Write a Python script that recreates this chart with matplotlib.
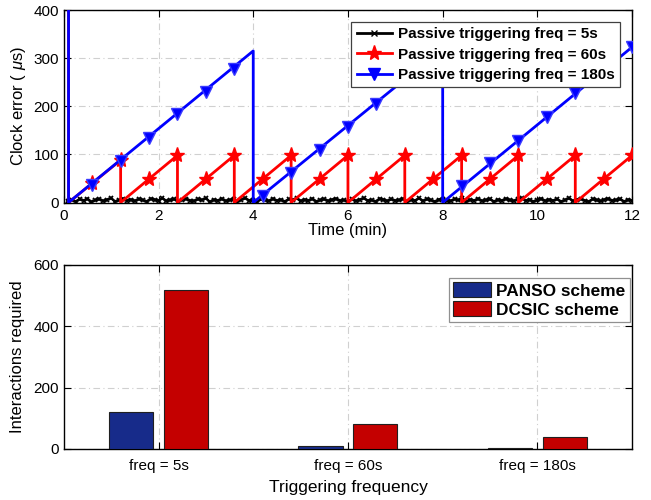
import numpy as np
import matplotlib
matplotlib.use("Agg")
import matplotlib.pyplot as plt
from matplotlib.lines import Line2D

plt.rcParams['font.family'] = ['Liberation Sans', 'DejaVu Sans']
plt.rcParams['mathtext.fontset'] = 'custom'
plt.rcParams['mathtext.rm'] = 'Liberation Sans'
plt.rcParams['mathtext.it'] = 'Liberation Sans:italic'

# ---- top panel data (time in min, error in us) ----
# freq = 5s, sampled every 5 s
black_vals = [3, 6, 2, 7, 4, 8, 1, 5, 7, 3, 6, 9, 2, 5, 8, 4, 6, 3, 7, 5, 2, 8, 6, 4,
              9, 3, 5, 7, 2, 6, 8, 4, 3, 7, 5, 9, 1, 6, 4, 8, 3, 5, 7, 2, 6, 9, 4, 5,
              2, 7, 5, 3, 8, 4, 6, 2, 7, 5, 9, 3, 6, 4, 8, 2, 5, 7, 3, 6, 8, 4, 5, 2,
              7, 3, 6, 9, 4, 5, 2, 8, 6, 3, 7, 4, 5, 8, 2, 6, 4, 9, 3, 7, 5, 2, 6, 8,
              4, 3, 7, 5, 9, 2, 6, 4, 8, 3, 5, 7, 2, 6, 4, 8, 5, 3, 7, 9, 4, 6, 2, 5,
              8, 3, 6, 4, 7, 2, 5, 9, 3, 6, 8, 4, 2, 7, 5, 3, 6, 8, 4, 5, 7, 2, 6, 4]
black_t = np.arange(1, len(black_vals) + 1) / 12.0

red_t = [0.1, 0.1, 1.2, 1.2, 2.4, 2.4, 3.6, 3.6, 4.8, 4.8, 6.0, 6.0,
         7.2, 7.2, 8.4, 8.4, 9.6, 9.6, 10.8, 10.8, 12.0]
red_v = [450, 0, 88, 0, 98, 0, 98, 0, 98, 0, 98, 0,
         98, 0, 98, 0, 98, 0, 98, 0, 98]
red_mk_t = [0.6, 1.2, 1.8, 2.4, 3.0, 3.6, 4.2, 4.8, 5.4, 6.0, 6.6, 7.2,
            7.8, 8.4, 9.0, 9.6, 10.2, 10.8, 11.4, 12.0]
red_mk_v = [40, 88, 49, 98, 49, 98, 49, 98, 49, 98, 49, 98,
            49, 98, 49, 98, 49, 98, 49, 98]

blue_t = [0.1, 0.1, 4.0, 4.0, 8.0, 8.0, 12.0]
blue_v = [450, 0, 315, 0, 320, 0, 323]
blue_mk_t = [0.6, 1.2, 1.8, 2.4, 3.0, 3.6, 4.2, 4.8, 5.4, 6.0, 6.6, 7.2,
             7.8, 8.4, 9.0, 9.6, 10.2, 10.8, 11.4, 12.0]
blue_mk_v = [37, 87, 135, 183, 230, 278, 14, 62, 110, 157, 205, 253,
             300, 34, 82, 128, 177, 228, 275, 323]

# ---- bottom panel data ----
categories = ['freq = 5s', 'freq = 60s', 'freq = 180s']
panso = [120, 10, 4]
dcsic = [520, 80, 40]

fig = plt.figure(figsize=(6.51, 5.0), dpi=100)
ax1 = fig.add_axes([0.098, 0.595, 0.873, 0.385])
ax2 = fig.add_axes([0.098, 0.102, 0.873, 0.368])

grid_kw = dict(color='#d0d0d0', linestyle=(0, (6, 3, 1, 3)), linewidth=0.8)


def style(ax):
    ax.grid(True, **grid_kw)
    ax.set_axisbelow(True)
    ax.tick_params(direction='in', top=True, right=True, length=5,
                   labelsize=11, width=0.8)
    for s in ax.spines.values():
        s.set_linewidth(1.0)


# top
ax1.plot(black_t, black_vals, color='black', lw=1.8, marker='x', ms=3.5, mew=1.3, zorder=2)
ax1.plot(red_t, red_v, color='red', lw=2, zorder=3)
ax1.plot(red_mk_t, red_mk_v, ls='none', color='red', marker='*', ms=11, zorder=3)
ax1.plot(blue_t, blue_v, color='blue', lw=2, zorder=4)
ax1.plot(blue_mk_t, blue_mk_v, ls='none', color='blue', marker='v', ms=9,
         markeredgecolor='#3a3aff', zorder=4)
ax1.set_xlim(0, 12)
ax1.set_ylim(0, 400)
ax1.set_xticks(range(0, 13, 2))
ax1.set_yticks(range(0, 401, 100))
ax1.set_xlabel('Time (min)', fontsize=12, labelpad=0)
ax1.set_ylabel(r'Clock error ( $\mu$s)', fontsize=12, labelpad=4)
style(ax1)
ax1.tick_params(axis='x', pad=5)
handles = [Line2D([], [], color='black', lw=2, marker='x', ms=4),
           Line2D([], [], color='red', lw=2, marker='*', ms=11),
           Line2D([], [], color='blue', lw=2, marker='v', ms=9)]
leg1 = ax1.legend(handles, ['Passive triggering freq = 5s',
                            'Passive triggering freq = 60s',
                            'Passive triggering freq = 180s'],
                  loc='upper right', bbox_to_anchor=(0.979, 0.938),
                  borderaxespad=0,
                  prop={'weight': 'bold', 'size': 11}, fancybox=False,
                  edgecolor='#404040', framealpha=1, handlelength=2.3,
                  labelspacing=0.42, borderpad=0.35, handletextpad=0.4)
leg1.get_frame().set_linewidth(0.9)

# bottom
x = np.arange(1, len(categories) + 1)
w = 0.233
ax2.bar(x - 0.145, panso, w, color='#172b8a', edgecolor='#202020', lw=0.8,
        label='PANSO scheme', zorder=3)
ax2.bar(x + 0.145, dcsic, w, color='#c40000', edgecolor='#202020', lw=0.8,
        label='DCSIC scheme', zorder=3)
ax2.set_xlim(0.5, 3.5)
ax2.set_ylim(0, 600)
ax2.set_xticks(x)
ax2.set_xticklabels(categories)
ax2.set_yticks(range(0, 601, 200))
ax2.set_xlabel('Triggering frequency', fontsize=12.5, labelpad=5)
ax2.set_ylabel('Interactions required', fontsize=12, labelpad=6)
style(ax2)
ax2.tick_params(axis='x', pad=7)
leg2 = ax2.legend(loc='upper right', bbox_to_anchor=(0.996, 0.929),
                  borderaxespad=0,
                  prop={'weight': 'bold', 'size': 12.4}, fancybox=False,
                  edgecolor='#909090', framealpha=1, handlelength=2.2,
                  handleheight=0.95, labelspacing=0.15, borderpad=0.25,
                  handletextpad=0.3)
leg2.get_frame().set_linewidth(0.9)

fig.savefig('out.png', dpi=100)
